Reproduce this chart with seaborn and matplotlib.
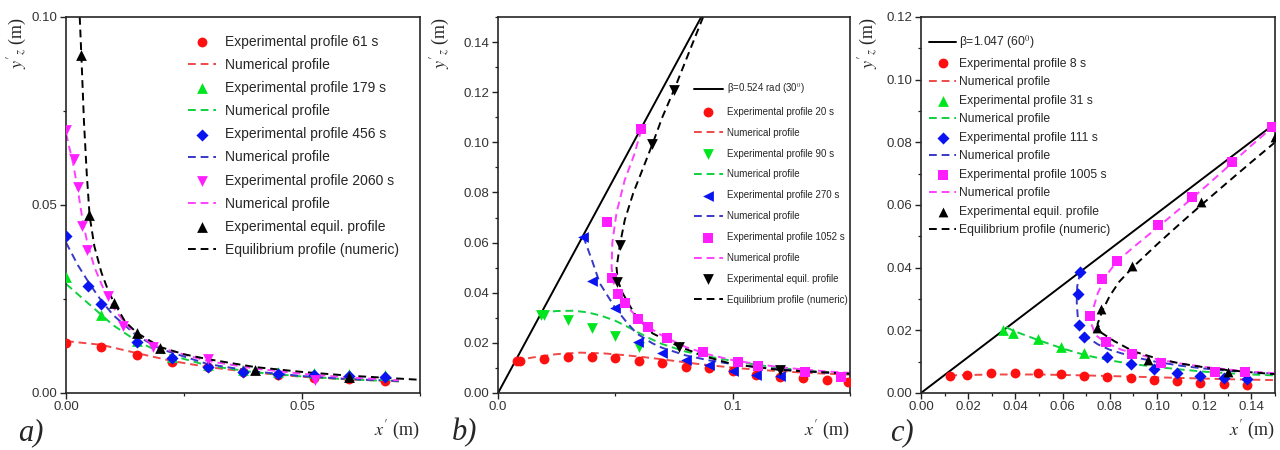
import pandas as pd
import matplotlib
matplotlib.use("Agg")
import matplotlib.pyplot as plt
import seaborn as sns
from matplotlib.ticker import MultipleLocator

# ---- panel a) : points, (x', y'_z) in m ----
a_exp_61 = [(0.0, 0.0134), (0.0075, 0.0121), (0.015, 0.0101), (0.0225, 0.0083), (0.030, 0.0068),
            (0.0375, 0.0057), (0.045, 0.0048), (0.0525, 0.0041), (0.060, 0.0036), (0.0675, 0.0033)]
a_num_61 = [(0.0, 0.0138), (0.0075, 0.0128), (0.015, 0.0106), (0.0225, 0.0085), (0.030, 0.0069),
            (0.040, 0.0054), (0.050, 0.0043), (0.060, 0.0036), (0.0705, 0.0031)]
a_exp_179 = [(0.0, 0.0309), (0.0075, 0.0207), (0.015, 0.0137), (0.0225, 0.0097), (0.030, 0.0074),
             (0.0375, 0.0062), (0.045, 0.0055), (0.0525, 0.0052), (0.060, 0.0050), (0.0675, 0.0049)]
a_num_179 = [(0.0, 0.0290), (0.005, 0.0235), (0.010, 0.0180), (0.015, 0.0138), (0.020, 0.0108),
             (0.030, 0.0073), (0.040, 0.0055), (0.050, 0.0044), (0.060, 0.0036), (0.0705, 0.0031)]
a_exp_456 = [(0.0, 0.0418), (0.0047, 0.0285), (0.0075, 0.0236), (0.015, 0.0136), (0.0225, 0.0092),
             (0.030, 0.0068), (0.0375, 0.0057), (0.045, 0.0050), (0.0525, 0.0048), (0.060, 0.0044),
             (0.0675, 0.0043)]
a_num_456 = [(0.0, 0.0400), (0.0025, 0.0340), (0.005, 0.0290), (0.0075, 0.0245), (0.010, 0.0207),
             (0.015, 0.0152), (0.020, 0.0117), (0.030, 0.0077), (0.040, 0.0057), (0.050, 0.0045),
             (0.060, 0.0037), (0.0705, 0.0032)]
a_exp_2060 = [(0.0, 0.0700), (0.0017, 0.0622), (0.0026, 0.0549), (0.0033, 0.0444), (0.0045, 0.0380),
              (0.0088, 0.0258), (0.0121, 0.0179), (0.0185, 0.0123), (0.030, 0.0090), (0.0528, 0.0035)]
a_num_2060 = [(0.0, 0.0690), (0.0015, 0.0610), (0.0025, 0.0540), (0.0035, 0.0460), (0.0045, 0.0400),
              (0.006, 0.0335), (0.008, 0.0275), (0.010, 0.0228), (0.0125, 0.0185), (0.015, 0.0155),
              (0.020, 0.0120), (0.030, 0.0085), (0.040, 0.0065), (0.050, 0.0051), (0.060, 0.0041),
              (0.0705, 0.0034)]
a_exp_eq = [(0.0031, 0.0899), (0.0049, 0.0473), (0.0102, 0.0239), (0.0151, 0.0159), (0.0199, 0.0119),
            (0.040, 0.0061), (0.060, 0.0043)]
a_num_eq = [(0.0029, 0.100), (0.0033, 0.088), (0.0038, 0.072), (0.0044, 0.058), (0.0050, 0.047),
            (0.0060, 0.039), (0.0075, 0.032), (0.0090, 0.027), (0.0102, 0.024), (0.0125, 0.019),
            (0.015, 0.0160), (0.020, 0.0122), (0.025, 0.0103), (0.030, 0.0090), (0.040, 0.0069),
            (0.050, 0.0056), (0.060, 0.0046), (0.075, 0.0035)]

# ---- panel b) ----
b_wall = [(0.0, 0.0), (0.0866, 0.150)]
b_exp_20 = [(0.0080, 0.0128), (0.0094, 0.0128), (0.0196, 0.0134), (0.0299, 0.0142), (0.0399, 0.0142),
            (0.050, 0.0138), (0.060, 0.0129), (0.070, 0.0118), (0.080, 0.0105), (0.090, 0.0098),
            (0.100, 0.0088), (0.110, 0.0072), (0.120, 0.0065), (0.130, 0.0059), (0.140, 0.0052),
            (0.149, 0.0045)]
b_num_20 = [(0.0075, 0.0130), (0.015, 0.0142), (0.025, 0.0155), (0.035, 0.0161), (0.045, 0.0158),
            (0.055, 0.0150), (0.065, 0.0140), (0.075, 0.0128), (0.085, 0.0116), (0.095, 0.0106),
            (0.105, 0.0097), (0.115, 0.0090), (0.125, 0.0084), (0.135, 0.0079), (0.150, 0.0073)]
b_exp_90 = [(0.0182, 0.0311), (0.0196, 0.0310), (0.0299, 0.0291), (0.0399, 0.0260), (0.050, 0.0227),
            (0.060, 0.0185)]
b_num_90 = [(0.018, 0.0320), (0.025, 0.0327), (0.032, 0.0328), (0.038, 0.0322), (0.044, 0.0308),
            (0.050, 0.0288), (0.055, 0.0265), (0.060, 0.0240), (0.065, 0.0216), (0.070, 0.0195),
            (0.080, 0.0165), (0.090, 0.0145), (0.100, 0.0128), (0.110, 0.0113), (0.120, 0.0100),
            (0.130, 0.0090), (0.140, 0.0083), (0.150, 0.0077)]
b_exp_270 = [(0.0363, 0.0623), (0.0399, 0.0447), (0.0498, 0.0338), (0.0597, 0.0202), (0.0699, 0.0158),
             (0.0799, 0.0132), (0.0899, 0.0112), (0.100, 0.0089), (0.110, 0.0072), (0.120, 0.0066)]
b_num_270 = [(0.0363, 0.0625), (0.040, 0.0530), (0.0434, 0.0437), (0.050, 0.0338), (0.055, 0.0280),
             (0.059, 0.0238), (0.0658, 0.0198), (0.070, 0.0180), (0.080, 0.0150), (0.090, 0.0130),
             (0.100, 0.0115), (0.110, 0.0103), (0.120, 0.0094), (0.130, 0.0087), (0.140, 0.0081),
             (0.150, 0.0077)]
b_exp_1052 = [(0.0611, 0.1052), (0.0465, 0.0683), (0.0486, 0.0457), (0.0512, 0.0394), (0.054, 0.0358),
              (0.0597, 0.0295), (0.064, 0.0265), (0.0718, 0.0218), (0.0874, 0.0162), (0.1023, 0.0125),
              (0.1108, 0.0109), (0.1306, 0.0085), (0.1463, 0.0065)]
b_num_1052 = [(0.0611, 0.1052), (0.058, 0.0950), (0.054, 0.0850), (0.0505, 0.0720), (0.0487, 0.0600),
              (0.0484, 0.0500), (0.0492, 0.0440), (0.0515, 0.0395), (0.055, 0.0345), (0.060, 0.0295),
              (0.065, 0.0258), (0.070, 0.0228), (0.080, 0.0183), (0.090, 0.0153), (0.100, 0.0131),
              (0.110, 0.0116), (0.120, 0.0103), (0.130, 0.0094), (0.140, 0.0086), (0.150, 0.0080)]
b_exp_eq = [(0.0750, 0.1209), (0.0658, 0.0993), (0.0519, 0.0590), (0.0509, 0.0444), (0.0772, 0.0185),
            (0.120, 0.0092)]
b_num_eq = [(0.0874, 0.150), (0.0810, 0.135), (0.0750, 0.1209), (0.0700, 0.1100), (0.0658, 0.0993),
            (0.0615, 0.0890), (0.0576, 0.0797), (0.0540, 0.0690), (0.0519, 0.0590), (0.0505, 0.0500),
            (0.0510, 0.0450), (0.0530, 0.0400), (0.0560, 0.0350), (0.0590, 0.0304), (0.0658, 0.0238),
            (0.0772, 0.0185), (0.0885, 0.0145), (0.100, 0.0115), (0.120, 0.0092), (0.150, 0.0077)]

# ---- panel c) ----
c_wall = [(0.0, 0.0), (0.150, 0.0860)]
c_exp_8 = [(0.0122, 0.0054), (0.0195, 0.0057), (0.0298, 0.0063), (0.0397, 0.0065), (0.0495, 0.0065),
           (0.0593, 0.0061), (0.0692, 0.0055), (0.079, 0.0050), (0.0889, 0.0047), (0.0987, 0.0041),
           (0.1085, 0.0038), (0.1184, 0.0033), (0.1285, 0.0029), (0.1383, 0.0026)]
c_num_8 = [(0.012, 0.0056), (0.030, 0.0059), (0.050, 0.0059), (0.070, 0.0056), (0.090, 0.0052),
           (0.110, 0.0048), (0.130, 0.0044), (0.150, 0.0041)]
c_exp_31 = [(0.0347, 0.0201), (0.0392, 0.0190), (0.0495, 0.0171), (0.0593, 0.0148), (0.0692, 0.0129)]
c_num_31 = [(0.036, 0.0210), (0.040, 0.0196), (0.050, 0.0168), (0.060, 0.0142), (0.070, 0.0120),
            (0.080, 0.0104), (0.090, 0.0092), (0.100, 0.0083), (0.110, 0.0075), (0.120, 0.0068),
            (0.130, 0.0063), (0.140, 0.0059), (0.150, 0.0056)]
c_exp_111 = [(0.0675, 0.0387), (0.0664, 0.0316), (0.0670, 0.0217), (0.0692, 0.0178), (0.079, 0.0116),
             (0.0889, 0.0092), (0.0987, 0.0077), (0.1085, 0.0063), (0.1184, 0.0055), (0.1285, 0.0049),
             (0.1383, 0.0045)]
c_num_111 = [(0.0675, 0.0387), (0.0662, 0.0340), (0.0660, 0.0290), (0.0664, 0.0245), (0.0680, 0.0205),
             (0.0710, 0.0175), (0.0750, 0.0155), (0.080, 0.0138), (0.090, 0.0115), (0.100, 0.0099),
             (0.110, 0.0087), (0.120, 0.0078), (0.130, 0.0071), (0.140, 0.0066), (0.150, 0.0062)]
c_exp_1005 = [(0.1486, 0.0850), (0.1317, 0.0736), (0.1148, 0.0627), (0.1005, 0.0536), (0.0832, 0.0422),
              (0.0769, 0.0363), (0.0716, 0.0246), (0.0784, 0.0164), (0.0893, 0.0124), (0.1015, 0.0095),
              (0.1247, 0.0068), (0.1374, 0.0068)]
c_num_1005 = [(0.150, 0.0855), (0.140, 0.0790), (0.130, 0.0722), (0.120, 0.0655), (0.110, 0.0590),
              (0.100, 0.0527), (0.090, 0.0465), (0.083, 0.0420), (0.0785, 0.0375), (0.0750, 0.0320),
              (0.0728, 0.0265), (0.0722, 0.0220), (0.0740, 0.0185), (0.0780, 0.0162), (0.085, 0.0138),
              (0.090, 0.0127), (0.100, 0.0108), (0.110, 0.0094), (0.120, 0.0083), (0.130, 0.0075),
              (0.140, 0.0068), (0.150, 0.0063)]
c_exp_eq = [(0.150, 0.0818), (0.1188, 0.0611), (0.0896, 0.0406), (0.0762, 0.0267), (0.0744, 0.0206),
            (0.0963, 0.0105), (0.1299, 0.0068)]
c_num_eq = [(0.150, 0.0800), (0.140, 0.0737), (0.130, 0.0673), (0.120, 0.0608), (0.110, 0.0542),
            (0.100, 0.0474), (0.090, 0.0403), (0.084, 0.0355), (0.080, 0.0310), (0.0770, 0.0265),
            (0.0748, 0.0220), (0.0765, 0.0192), (0.082, 0.0165), (0.090, 0.0133), (0.100, 0.0110),
            (0.110, 0.0094), (0.120, 0.0082), (0.130, 0.0073), (0.140, 0.0066), (0.150, 0.0060)]

RED, GREEN, BLUE, MAG, BLACK = "#ff1010", "#00e61e", "#0a14f0", "#ff1eff", "#000000"
NUM_RED, NUM_GREEN, NUM_BLUE, NUM_MAG = "#f04848", "#10d040", "#3838c8", "#ff40ff"
DASH = (0, (4, 2.5))

sns.set_style("ticks")
plt.rcParams["font.family"] = ["Liberation Sans", "DejaVu Sans"]
plt.rcParams["mathtext.fontset"] = "stix"


def scatter(ax, pts, color, marker, label, size=50):
    df = pd.DataFrame(pts, columns=["x", "y"])
    sns.scatterplot(data=df, x="x", y="y", color=color, marker=marker, s=size,
                    linewidth=0, label=label, ax=ax, zorder=3)


def curve(ax, pts, color, label, ls=DASH):
    df = pd.DataFrame(pts, columns=["x", "y"])
    sns.lineplot(data=df, x="x", y="y", sort=False, estimator=None, color=color,
                 linestyle=ls, lw=1.4, label=label, ax=ax, zorder=2)


def style_axes(ax, xlim, ylim, xmaj, xmin, ymaj, ymin, xfmt, yfmt, ylab_x):
    ax.set_xlim(*xlim)
    ax.set_ylim(*ylim)
    ax.xaxis.set_major_locator(MultipleLocator(xmaj))
    ax.xaxis.set_minor_locator(MultipleLocator(xmin))
    ax.yaxis.set_major_locator(MultipleLocator(ymaj))
    ax.yaxis.set_minor_locator(MultipleLocator(ymin))
    ax.xaxis.set_major_formatter(xfmt)
    ax.yaxis.set_major_formatter(yfmt)
    ax.tick_params(which="major", direction="out", length=4, width=1, labelsize=9.5, pad=2,
                   colors="#222222", labelcolor="#333333")
    ax.tick_params(which="minor", direction="out", length=2.5, width=0.9, colors="#222222")
    for s in ax.spines.values():
        s.set_linewidth(1.2)
    ax.set_ylabel(r"$y'_{z}$ (m)", loc="top", fontsize=13, family="Liberation Serif")
    ax.yaxis.set_label_coords(ylab_x, 1.0)
    ax.set_xlabel(r"$x'$ (m)", loc="right", fontsize=13, family="Liberation Serif", labelpad=4)


fig = plt.figure(figsize=(12.8, 4.5), dpi=100)
ax_a = fig.add_axes([0.0516, 0.1267, 0.2766, 0.8356])
ax_b = fig.add_axes([0.3891, 0.1267, 0.2750, 0.8356])
ax_c = fig.add_axes([0.7195, 0.1267, 0.2766, 0.8356])

# a)
scatter(ax_a, a_exp_61, RED, "o", "Experimental profile 61 s")
curve(ax_a, a_num_61, NUM_RED, "Numerical profile")
scatter(ax_a, a_exp_179, GREEN, "^", "Experimental profile 179 s", 60)
curve(ax_a, a_num_179, NUM_GREEN, "Numerical profile")
scatter(ax_a, a_exp_456, BLUE, "D", "Experimental profile 456 s", 38)
curve(ax_a, a_num_456, NUM_BLUE, "Numerical profile")
scatter(ax_a, a_exp_2060, MAG, "v", "Experimental profile 2060 s", 60)
curve(ax_a, a_num_2060, NUM_MAG, "Numerical profile")
scatter(ax_a, a_exp_eq, BLACK, "^", "Experimental equil. profile", 60)
curve(ax_a, a_num_eq, BLACK, "Equilibrium profile (numeric)")
style_axes(ax_a, (0, 0.075), (0, 0.10), 0.05, 0.025, 0.05, 0.025, "{x:.2f}", "{x:.2f}", -0.105)
ax_a.legend(loc="upper left", bbox_to_anchor=(0.33, 0.968), frameon=False, fontsize=10,
            handlelength=2.0, handletextpad=0.6, labelspacing=0.66, borderaxespad=0)

# b)
curve(ax_b, b_wall, BLACK, "β=0.524 rad (30$^{0}$)", ls="-")
scatter(ax_b, b_exp_20, RED, "o", "Experimental profile 20 s")
curve(ax_b, b_num_20, NUM_RED, "Numerical profile")
scatter(ax_b, b_exp_90, GREEN, "v", "Experimental profile 90 s", 60)
curve(ax_b, b_num_90, NUM_GREEN, "Numerical profile")
scatter(ax_b, b_exp_270, BLUE, "<", "Experimental profile 270 s", 60)
curve(ax_b, b_num_270, NUM_BLUE, "Numerical profile")
scatter(ax_b, b_exp_1052, MAG, "s", "Experimental profile 1052 s", 45)
curve(ax_b, b_num_1052, NUM_MAG, "Numerical profile")
scatter(ax_b, b_exp_eq, BLACK, "v", "Experimental equil. profile", 60)
curve(ax_b, b_num_eq, BLACK, "Equilibrium profile (numeric)")
style_axes(ax_b, (0, 0.15), (0, 0.15), 0.1, 0.05, 0.02, 0.01, "{x:.1f}", "{x:.2f}", -0.13)
ax_b.legend(loc="upper left", bbox_to_anchor=(0.545, 0.84), frameon=False, fontsize=7,
            handlelength=3.0, handletextpad=0.4, labelspacing=1.12, borderaxespad=0)

# c)
curve(ax_c, c_wall, BLACK, "β=1.047 (60$^{0}$)", ls="-")
scatter(ax_c, c_exp_8, RED, "o", "Experimental profile 8 s")
curve(ax_c, c_num_8, NUM_RED, "Numerical profile")
scatter(ax_c, c_exp_31, GREEN, "^", "Experimental profile 31 s", 60)
curve(ax_c, c_num_31, NUM_GREEN, "Numerical profile")
scatter(ax_c, c_exp_111, BLUE, "D", "Experimental profile 111 s", 38)
curve(ax_c, c_num_111, NUM_BLUE, "Numerical profile")
scatter(ax_c, c_exp_1005, MAG, "s", "Experimental profile 1005 s", 45)
curve(ax_c, c_num_1005, NUM_MAG, "Numerical profile")
scatter(ax_c, c_exp_eq, BLACK, "^", "Experimental equil. profile", 50)
curve(ax_c, c_num_eq, BLACK, "Equilibrium profile (numeric)")
style_axes(ax_c, (0, 0.15), (0, 0.12), 0.02, 0.01, 0.02, 0.01, "{x:.2f}", "{x:.2f}", -0.115)
ax_c.legend(loc="upper left", bbox_to_anchor=(0.01, 0.968), frameon=False, fontsize=8.7,
            handlelength=2.2, handletextpad=0.25, labelspacing=0.54, borderaxespad=0)

for lbl, xpos in [("a)", 0.014), ("b)", 0.353), ("c)", 0.695)]:
    fig.text(xpos, 0.022, lbl, fontsize=22, family="Liberation Serif", style="italic")

fig.savefig("out.png", dpi=100)
